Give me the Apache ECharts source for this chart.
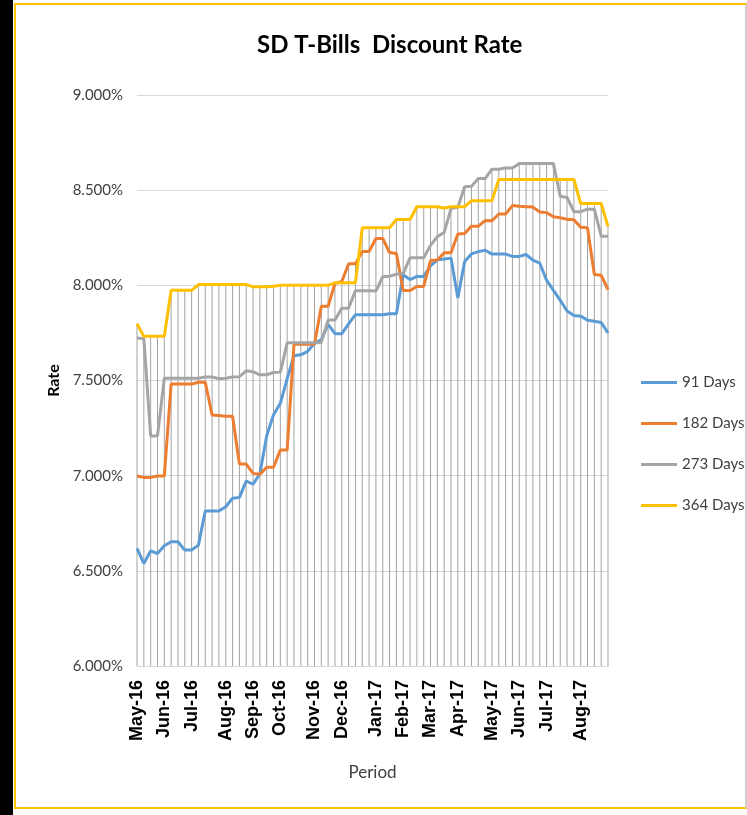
<!DOCTYPE html>
<html>
<head>
<meta charset="utf-8">
<script src="https://cdn.jsdelivr.net/npm/echarts@6/dist/echarts.min.js"></script>
<style>
html, body { margin: 0; padding: 0; background: #fff; }
#side { position: absolute; left: 0; top: 0; width: 13px; height: 815px; background: #000; }
#frame { position: absolute; left: 14px; top: 3px; width: 733px; height: 806px; box-sizing: border-box;
  border: 2px solid #FFC000; border-right-color: #cfcfcf; border-bottom-color: #FFC000; }
#chart { position: absolute; left: 0; top: 0; width: 747px; height: 815px; }
</style>
</head>
<body>
<div id="side"></div>
<div id="frame"></div>
<div id="chart"></div>
<script>
// weekly auction dates
const weeks = [
  '2016-05-04','2016-05-11','2016-05-18','2016-05-25','2016-06-01','2016-06-08','2016-06-15','2016-06-22',
  '2016-06-29','2016-07-06','2016-07-13','2016-07-20','2016-07-27','2016-08-03','2016-08-10','2016-08-17',
  '2016-08-24','2016-08-31','2016-09-07','2016-09-14','2016-09-21','2016-09-28','2016-10-05','2016-10-12',
  '2016-10-19','2016-10-26','2016-11-02','2016-11-09','2016-11-16','2016-11-23','2016-11-30','2016-12-07',
  '2016-12-14','2016-12-21','2016-12-28','2017-01-04','2017-01-11','2017-01-18','2017-01-25','2017-02-01',
  '2017-02-08','2017-02-15','2017-02-22','2017-03-01','2017-03-08','2017-03-15','2017-03-22','2017-03-29',
  '2017-04-05','2017-04-12','2017-04-19','2017-04-26','2017-05-03','2017-05-10','2017-05-17','2017-05-24',
  '2017-05-31','2017-06-07','2017-06-14','2017-06-21','2017-06-28','2017-07-05','2017-07-12','2017-07-19',
  '2017-07-26','2017-08-02','2017-08-09','2017-08-16','2017-08-23','2017-08-30'
];
const monthNames = ['Jan','Feb','Mar','Apr','May','Jun','Jul','Aug','Sep','Oct','Nov','Dec'];
const seriesNames = ['91 Days', '182 Days', '273 Days', '364 Days'];
const colors = ['#5B9BD5', '#ED7D31', '#A5A5A5', '#FFC000'];

const days91 = [
  6.618, 6.539, 6.605, 6.591, 6.632, 6.653, 6.653, 6.609, 6.609, 6.635,
  6.814, 6.814, 6.814, 6.837, 6.881, 6.886, 6.972, 6.955, 7.010, 7.210,
  7.320, 7.380, 7.510, 7.630, 7.635, 7.653, 7.696, 7.714, 7.795, 7.746,
  7.746, 7.798, 7.846, 7.846, 7.846, 7.846, 7.846, 7.851, 7.851, 8.056,
  8.030, 8.047, 8.047, 8.102, 8.134, 8.138, 8.143, 7.934, 8.125, 8.165,
  8.177, 8.184, 8.164, 8.164, 8.164, 8.152, 8.152, 8.162, 8.132, 8.117,
  8.027, 7.974, 7.922, 7.865, 7.842, 7.838, 7.817, 7.811, 7.805, 7.750
];
const days182 = [
  6.998, 6.991, 6.991, 6.998, 6.998, 7.481, 7.481, 7.481, 7.481, 7.491,
  7.491, 7.319, 7.316, 7.312, 7.312, 7.061, 7.061, 7.012, 7.007, 7.044,
  7.044, 7.135, 7.135, 7.690, 7.690, 7.690, 7.690, 7.890, 7.890, 8.010,
  8.020, 8.113, 8.113, 8.178, 8.178, 8.246, 8.246, 8.172, 8.167, 7.973,
  7.973, 7.994, 7.994, 8.130, 8.133, 8.171, 8.171, 8.270, 8.272, 8.311,
  8.311, 8.340, 8.339, 8.375, 8.375, 8.419, 8.415, 8.413, 8.411, 8.385,
  8.382, 8.360, 8.355, 8.347, 8.345, 8.305, 8.302, 8.057, 8.053, 7.978
];
const days273 = [
  7.723, 7.720, 7.209, 7.209, 7.512, 7.512, 7.512, 7.512, 7.512, 7.512,
  7.518, 7.518, 7.509, 7.512, 7.518, 7.520, 7.551, 7.546, 7.530, 7.530,
  7.542, 7.544, 7.698, 7.698, 7.698, 7.698, 7.698, 7.700, 7.818, 7.818,
  7.880, 7.880, 7.972, 7.972, 7.972, 7.970, 8.045, 8.048, 8.058, 8.062,
  8.145, 8.145, 8.145, 8.210, 8.256, 8.278, 8.403, 8.410, 8.518, 8.520,
  8.561, 8.561, 8.610, 8.610, 8.617, 8.617, 8.640, 8.640, 8.640, 8.640,
  8.640, 8.640, 8.468, 8.462, 8.387, 8.387, 8.400, 8.400, 8.258, 8.258
];
const days364 = [
  7.798, 7.732, 7.732, 7.732, 7.732, 7.974, 7.974, 7.974, 7.974, 8.004,
  8.004, 8.004, 8.004, 8.004, 8.004, 8.004, 8.004, 7.992, 7.992, 7.992,
  7.995, 8.000, 8.000, 8.000, 8.000, 8.000, 8.000, 8.000, 8.000, 8.014,
  8.014, 8.014, 8.014, 8.302, 8.302, 8.302, 8.302, 8.302, 8.346, 8.346,
  8.346, 8.413, 8.413, 8.413, 8.413, 8.406, 8.413, 8.413, 8.413, 8.445,
  8.445, 8.445, 8.445, 8.556, 8.556, 8.556, 8.556, 8.556, 8.556, 8.556,
  8.556, 8.556, 8.556, 8.556, 8.556, 8.430, 8.430, 8.430, 8.430, 8.310
];

// drop lines reach the highest of the four rates each week
const dropTops = weeks.map((w, i) => Math.max(days91[i], days182[i], days273[i], days364[i]));

// month label on the week nearest the 1st of the month (only months that start inside the range)
const lastWeek = new Date(weeks[weeks.length - 1] + 'T00:00:00Z');
function monthLabel(d) {
  const t = new Date(d + 'T00:00:00Z');
  t.setUTCDate(t.getUTCDate() + 3);
  if (t.getUTCDate() > 7) return '';
  const first = new Date(Date.UTC(t.getUTCFullYear(), t.getUTCMonth(), 1));
  if (first > lastWeek) return '';
  return monthNames[t.getUTCMonth()] + '-' + String(t.getUTCFullYear()).slice(2);
}

const chart = echarts.init(document.getElementById('chart'));
const lineData = [days91, days182, days273, days364];

const series = [{
  name: 'drop',
  type: 'bar',
  data: dropTops,
  barWidth: 1,
  itemStyle: { color: '#a3a3a3' },
  silent: true,
  z: 1
}];
lineData.forEach((vals, k) => {
  series.push({
    name: seriesNames[k],
    type: 'line',
    data: vals,
    symbol: 'none',
    lineStyle: { width: 3, color: colors[k] },
    itemStyle: { color: colors[k] },
    z: 3 + k
  });
});

chart.setOption({
  animation: false,
  title: {
    text: 'SD T-Bills  Discount Rate',
    left: 252,
    top: 28,
    textStyle: { fontFamily: 'Lato', fontWeight: 'bold', fontSize: 24, color: '#000' }
  },
  legend: {
    data: seriesNames,
    orient: 'vertical',
    left: 636,
    top: 370,
    icon: 'rect',
    itemWidth: 36,
    itemHeight: 3,
    itemGap: 26,
    textStyle: { fontFamily: 'Lato', fontSize: 15, color: '#404040' }
  },
  grid: { left: 137, right: 139, top: 95, bottom: 149, containLabel: false, outerBoundsMode: 'none' },
  xAxis: {
    type: 'category',
    data: weeks,
    boundaryGap: false,
    name: 'Period',
    nameLocation: 'middle',
    nameGap: 98,
    nameTextStyle: { fontFamily: 'Lato', fontSize: 17, color: '#404040' },
    axisLine: { lineStyle: { color: '#d9d9d9' } },
    axisTick: { show: false },
    axisLabel: {
      interval: 0,
      rotate: 90,
      margin: 14,
      formatter: monthLabel,
      fontFamily: 'Liberation Sans',
      fontWeight: 'bold',
      fontSize: 18,
      color: '#000'
    },
    splitLine: { show: false }
  },
  yAxis: {
    type: 'value',
    min: 6,
    max: 9,
    interval: 0.5,
    name: 'Rate',
    nameLocation: 'middle',
    nameGap: 66,
    nameRotate: 90,
    nameTextStyle: { fontFamily: 'Lato', fontWeight: 'bold', fontSize: 16, color: '#000' },
    axisLine: { show: false },
    axisTick: { show: false },
    axisLabel: {
      margin: 14,
      formatter: v => v.toFixed(3) + '%',
      fontFamily: 'Lato',
      fontSize: 15,
      color: '#404040'
    },
    splitLine: { lineStyle: { color: '#d9d9d9' } }
  },
  series: series
});
</script>
</body>
</html>
